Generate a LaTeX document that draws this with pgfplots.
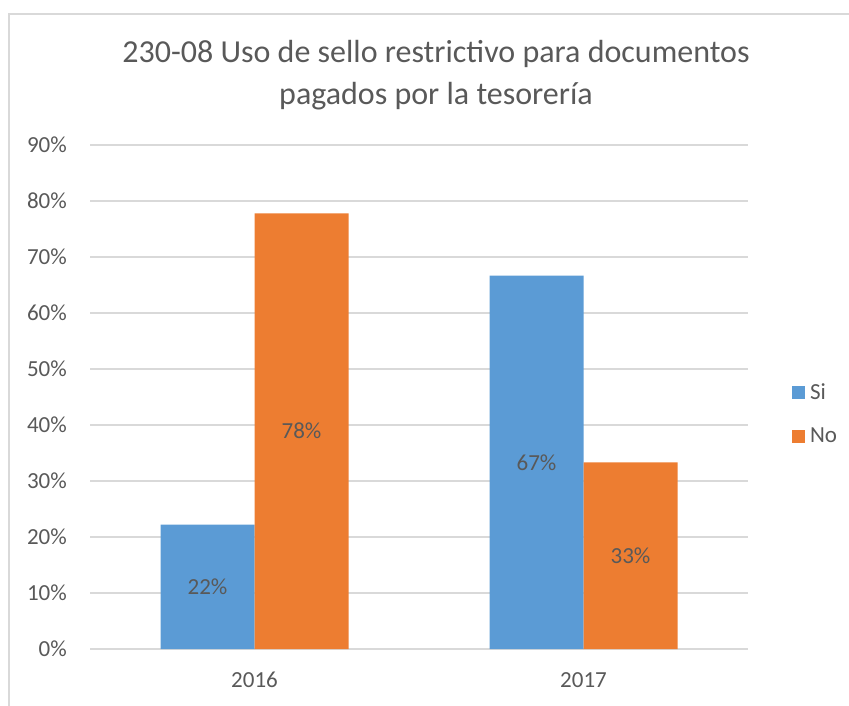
\documentclass[border=0pt]{standalone}
\usepackage{fontspec}
\setmainfont{Carlito}
\usepackage{pgfplots}
\pgfplotsset{compat=1.18}
\definecolor{txt}{HTML}{595959}
\definecolor{gridc}{HTML}{D9D9D9}
\definecolor{siblue}{HTML}{5B9BD5}
\definecolor{noorange}{HTML}{ED7D31}
\begin{document}
\begin{tikzpicture}[x=1pt,y=1pt]
\path[use as bounding box] (0,0) rectangle (849,705);
\draw[gridc, line width=1.3pt] (9,-20) rectangle (880,691);
\node[font=\fontsize{32}{42}\selectfont, text=txt, align=center] at (436,630) {230-08 Uso de sello restrictivo para documentos\\pagados por la tesorería};
\begin{axis}[
  at={(90pt,56pt)}, anchor=south west,
  scale only axis, width=658pt, height=504pt,
  xmin=-0.5, xmax=1.5, ymin=0, ymax=90,
  xtick={0,1}, xticklabels={2016,2017},
  ytick={0,10,...,90},
  yticklabel={\pgfmathprintnumber{\tick}\%},
  /pgf/number format/assume math mode=true,
  axis line style={draw=none},
  major tick length=0pt,
  ymajorgrids, grid style={color=gridc, line width=1.3pt},
  tick label style={font=\fontsize{23}{27}\selectfont, text=txt},
  yticklabel style={anchor=east, inner sep=0pt, xshift=-23pt},
  xticklabel style={anchor=north, inner sep=0pt, yshift=-23pt},
  ybar, bar width=94pt,
  legend style={at={(1.062,0.466)}, anchor=west, draw=none, fill=none,
    font=\fontsize{23}{27}\selectfont, text=txt, row sep=25pt,
    nodes={inner sep=1pt},
    /tikz/every odd column/.append style={column sep=4pt}},
  legend cell align=left,
  legend image code/.code={\fill[#1] (0pt,-6.5pt) rectangle (13pt,6.5pt);},
]
\addplot[draw=none, fill=siblue, bar shift=-47pt] coordinates {(0,22.22) (1,66.67)};
\addlegendentry{Si}
\addplot[draw=none, fill=noorange, bar shift=47pt] coordinates {(0,77.78) (1,33.33)};
\addlegendentry{No}
\addplot[draw=none, fill=none, bar shift=-47pt, forget plot,
  nodes near coords={\pgfmathprintnumber[fixed,precision=0]{\pgfplotspointmeta}\%},
  point meta=explicit,
  every node near coord/.append style={anchor=center, font=\fontsize{23}{27}\selectfont, text=txt}]
  table[meta=lab] {
x y lab
0 11.11 22
1 33.33 67
};
\addplot[draw=none, fill=none, bar shift=47pt, forget plot,
  nodes near coords={\pgfmathprintnumber[fixed,precision=0]{\pgfplotspointmeta}\%},
  point meta=explicit,
  every node near coord/.append style={anchor=center, font=\fontsize{23}{27}\selectfont, text=txt}]
  table[meta=lab] {
x y lab
0 38.89 78
1 16.67 33
};
\end{axis}
\end{tikzpicture}
\end{document}
